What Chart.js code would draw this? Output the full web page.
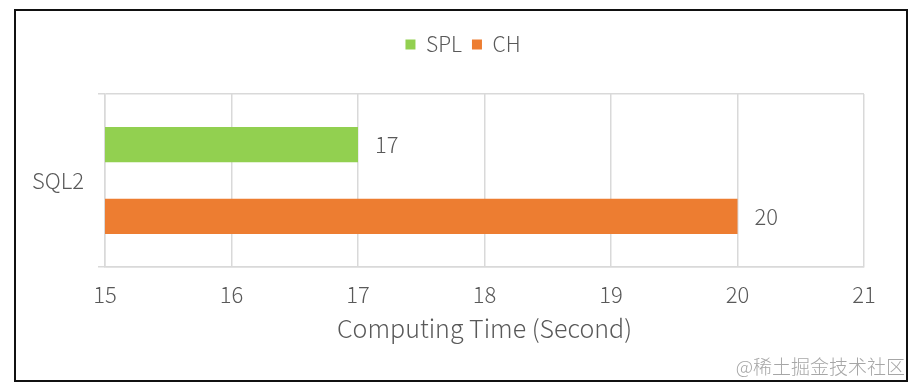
<!DOCTYPE html>
<html>
<head>
<meta charset="utf-8">
<script src="https://cdn.jsdelivr.net/npm/chart.js@4"></script>
<style>
  html, body { margin: 0; padding: 0; background: #fff; }
  #wrap { position: relative; width: 920px; height: 391px; }
  #c { position: absolute; left: 0; top: 0; }
  #frame { position: absolute; left: 14px; top: 9px; width: 894px; height: 373px; box-sizing: border-box; border: 2px solid #111; pointer-events: none; }
  #wm { position: absolute; right: 15px; top: 355px; font-family: "Noto Sans CJK SC", sans-serif; font-weight: 300; font-size: 19px; color: #a6a6a6; line-height: 22px; }
</style>
</head>
<body>
<div id="wrap">
  <canvas id="c" width="920" height="391"></canvas>
  <div id="frame"></div>
  <div id="wm">@稀土掘金技术社区</div>
</div>
<script>
const categories = ['SQL2'];
const seriesNames = ['SPL', 'CH'];
const splValues = [17];
const chValues = [20];
const xTicks = [15, 16, 17, 18, 19, 20, 21];
const xTitle = 'Computing Time (Second)';

const FONT = '"Noto Sans CJK SC", "Liberation Sans", sans-serif';
const W = 300;
const TXT = '#595959';
const GRID = '#d9d9d9';

const valueLabels = {
  id: 'valueLabels',
  afterDatasetsDraw(chart) {
    const ctx = chart.ctx;
    ctx.save();
    ctx.font = W + ' 22px ' + FONT;
    ctx.fillStyle = TXT;
    ctx.textAlign = 'left';
    ctx.textBaseline = 'middle';
    chart.data.datasets.forEach((ds, i) => {
      const meta = chart.getDatasetMeta(i);
      meta.data.forEach((bar, j) => {
        const p = bar.getProps(['x', 'y'], true);
        ctx.fillText(String(ds.data[j]), p.x + 17, p.y);
      });
    });
    ctx.restore();
  }
};

const legendSize = {
  id: 'legendSize',
  beforeLayout(chart) {
    const lg = chart.legend;
    if (lg && !lg._sized) {
      const f = lg.fit;
      lg.fit = function () { f.call(this); this.height = 94 - 24; };
      lg._sized = true;
    }
  },
  afterLayout(chart) {
    const lg = chart.legend;
    if (lg) { lg.left += 31; lg.right += 31; }
  }
};

new Chart(document.getElementById('c'), {
  type: 'bar',
  data: {
    labels: categories,
    datasets: [
      { label: seriesNames[0], data: splValues, backgroundColor: '#92D050', categoryPercentage: 0.832, barPercentage: 0.49 },
      { label: seriesNames[1], data: chValues, backgroundColor: '#ED7D31', categoryPercentage: 0.832, barPercentage: 0.49 }
    ]
  },
  options: {
    indexAxis: 'y',
    responsive: false,
    animation: false,
    devicePixelRatio: 1,
    layout: { padding: { left: 0, right: 56, top: 24, bottom: 40 } },
    plugins: {
      legend: {
        position: 'top',
        align: 'center',
        labels: { boxWidth: 10, boxHeight: 10, padding: 10, color: TXT, font: { family: FONT, size: 21, weight: W } }
      },
      tooltip: { enabled: false }
    },
    scales: {
      x: {
        type: 'linear',
        min: xTicks[0],
        max: xTicks[xTicks.length - 1],
        afterBuildTicks(scale) { scale.ticks = xTicks.map(v => ({ value: v })); },
        afterFit(scale) { scale.height = 391 - 267 - 40; },
        grid: { color: GRID, lineWidth: 1.5, drawTicks: false },
        border: { color: GRID, width: 1.5 },
        ticks: { color: TXT, padding: 14, font: { family: FONT, size: 22, weight: W } },
        title: { display: true, text: xTitle, color: TXT, padding: { top: 0, bottom: 8 }, font: { family: FONT, size: 25, weight: W } }
      },
      y: {
        type: 'category',
        afterFit(scale) { scale.width = 105; },
        grid: { color: GRID, lineWidth: 1.5, offset: true, tickLength: 7 },
        border: { color: GRID, width: 1.5 },
        ticks: { color: TXT, padding: 14, font: { family: FONT, size: 22, weight: W } }
      }
    }
  },
  plugins: [valueLabels, legendSize]
});
</script>
</body>
</html>
